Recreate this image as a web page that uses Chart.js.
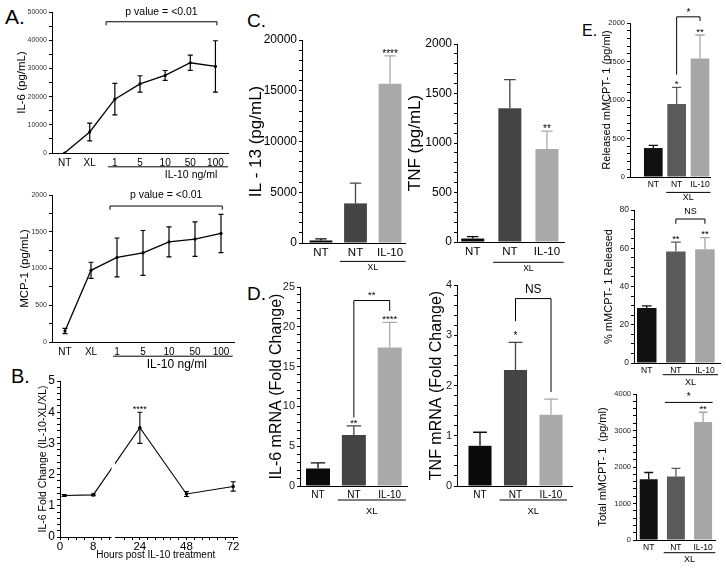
<!DOCTYPE html>
<html><head><meta charset="utf-8">
<script src="https://cdn.jsdelivr.net/npm/chart.js@4.4.1/dist/chart.umd.min.js"></script>
<style>
html,body{margin:0;padding:0;background:#fff}
body{width:726px;height:569px;position:relative;overflow:hidden;font-family:'Liberation Sans',Arial,sans-serif;color:#000}
canvas{position:absolute}
.pl{position:absolute;line-height:1;white-space:nowrap}
</style></head><body>
<div class="pl" style="left:5px;top:6px;font-size:21px">A.</div>
<div class="pl" style="left:11px;top:366px;font-size:20px">B.</div>
<div class="pl" style="left:247px;top:11px;font-size:19px">C.</div>
<div class="pl" style="left:247px;top:284px;font-size:19px">D.</div>
<div class="pl" style="left:582px;top:23px;font-size:16px">E.</div>
<script>
const FONT = "'Liberation Sans', Arial, Helvetica, sans-serif";
Chart.defaults.font.family = FONT;
Chart.defaults.color = '#000';
Chart.defaults.animation = false;

// ---------------- DATA ----------------
const doseLabels = ['NT', 'XL', '1', '5', '10', '50', '100'];
const il6Mean = [0, 7470, 19100, 24500, 27500, 32000, 30700];
const il6Err  = [0, 3150, 5600, 2900, 1750, 2700, 9100];
const mcp1Mean = [150, 975, 1150, 1212, 1362, 1400, 1477];
const mcp1Err  = [35, 110, 265, 305, 205, 235, 260];

const hours = [1, 8, 24, 48, 72];
const hourTickLabels = [0, 8, 24, 48, 72];
const foldMean = [1.33, 1.35, 3.5, 1.38, 1.62];
const foldErr  = [0.03, 0.03, 0.5, 0.08, 0.15];

const groupLabels = ['NT', 'NT', 'IL-10'];
const il13Mean = [250, 3900, 15680];
const il13Err  = [150, 2000, 2750];
const tnfMean = [35, 1350, 940];
const tnfErr  = [20, 290, 180];
const il6mRNAMean = [2.2, 6.4, 17.4];
const il6mRNAErr  = [0.7, 1.15, 3.15];
const tnfmRNAMean = [0.8, 2.31, 1.42];
const tnfmRNAErr  = [0.27, 0.55, 0.31];
const releasedMean = [376, 948, 1540];
const releasedErr  = [34, 216, 304];
const pctMean = [28.7, 58.3, 59.5];
const pctErr  = [1.2, 4.9, 6.1];
const totalMean = [1667, 1740, 3230];
const totalErr  = [183, 220, 270];

// ---------------- COLOURS ----------------
const CD_COLS = ['#0a0a0a', '#444444', '#aaaaaa'];
const E_COLS = ['#111111', '#5a5a5a', '#a6a6a6'];

// ---------------- custom broken linear scale (panel B) ----------------
class BrokenScale extends Chart.LinearScale {
  static id = 'broken';
  getPixelForValue(v) {
    if (v === null || v === undefined || isNaN(v)) return NaN;
    const b = this.options.brk;
    const W = this.right - this.left;
    if (v <= b.leftMax) return this.left + (v - this.min) / (b.leftMax - this.min) * b.leftFrac * W;
    const r0 = this.left + (b.leftFrac + b.gapFrac) * W;
    return r0 + (v - b.rightMin) / (this.max - b.rightMin) * (1 - b.leftFrac - b.gapFrac) * W;
  }
}
Chart.register(BrokenScale);

function txt(ctx, s, x, y, size, align, base) {
  ctx.save();
  ctx.font = size + 'px ' + FONT;
  ctx.fillStyle = '#000';
  ctx.textAlign = align || 'center';
  ctx.textBaseline = base || 'middle';
  ctx.fillText(s, x, y);
  ctx.restore();
}
const valOf = d => (typeof d === 'object' && d !== null) ? d.y : d;

// ---------------- decoration plugin: error bars, stars, brackets, groups ----------------
const deco = {
  id: 'deco',
  afterDatasetsDraw(chart, args, o) {
    const ctx = chart.ctx, xs = chart.scales.x, ys = chart.scales.y;
    const base = o.xBase || 0;
    const X = i => xs.getPixelForValue(i + base);
    const Y = v => ys.getPixelForValue(v);
    ctx.save();
    chart.data.datasets.forEach((ds, di) => {
      if (!ds.errors) return;
      const meta = chart.getDatasetMeta(di);
      meta.data.forEach((el, i) => {
        const e = ds.errors[i];
        if (!e) return;
        const m = valOf(ds.data[i]);
        const col = Array.isArray(ds.errorColor) ? ds.errorColor[i] : (ds.errorColor || '#000');
        const cap = ds.errorCapFrac ? el.width * ds.errorCapFrac : (ds.errorCap || 6);
        ctx.strokeStyle = col;
        ctx.lineWidth = ds.errorWidth || 1.2;
        const yT = Y(m + e), yB = ds.errorBoth ? Y(m - e) : Y(m);
        ctx.beginPath();
        ctx.moveTo(el.x, yB); ctx.lineTo(el.x, yT);
        ctx.moveTo(el.x - cap / 2, yT); ctx.lineTo(el.x + cap / 2, yT);
        if (ds.errorBoth) { ctx.moveTo(el.x - cap / 2, yB); ctx.lineTo(el.x + cap / 2, yB); }
        ctx.stroke();
      });
    });
    if (o.gap) {
      const b = xs.options.brk, W = xs.right - xs.left;
      const g0 = xs.left + b.leftFrac * W, g1 = xs.left + (b.leftFrac + b.gapFrac) * W;
      ctx.fillStyle = '#fff';
      ctx.fillRect(g0, chart.chartArea.top - 2, g1 - g0, xs.top - chart.chartArea.top + 4);
    }
    const ds0 = chart.data.datasets[0];
    const meta0 = chart.getDatasetMeta(0);
    (o.stars || []).forEach(s => {
      const m = valOf(ds0.data[s.i]);
      const e = ds0.errors ? ds0.errors[s.i] : 0;
      txt(ctx, s.text, meta0.data[s.i].x, Y(m + e) - (o.starGap ?? 3), o.starFont || 11);
    });
    ctx.strokeStyle = '#000';
    ctx.lineWidth = 1;
    (o.brackets || []).forEach(b => {
      const x1 = X(b.i1 + (b.e1 || 0)), x2 = X(b.i2 + (b.e2 || 0)), yt = Y(b.top);
      ctx.beginPath();
      if (b.l != null) { ctx.moveTo(x1, Y(b.l)); ctx.lineTo(x1, yt); } else ctx.moveTo(x1, yt);
      ctx.lineTo(x2, yt);
      if (b.r != null) ctx.lineTo(x2, Y(b.r));
      ctx.stroke();
      if (b.text) txt(ctx, b.text, b.tx != null ? X(b.tx) : (x1 + x2) / 2,
                      b.ty != null ? Y(b.ty) : yt - (b.textGap || 5), b.font || 11);
    });
    (o.groups || []).forEach(g => {
      const x1 = X(g.i1 + (g.e1 || 0)), x2 = X(g.i2 + (g.e2 || 0));
      const gy = xs.top + g.lineDy;
      ctx.beginPath(); ctx.moveTo(x1, gy); ctx.lineTo(x2, gy); ctx.stroke();
      txt(ctx, g.text, g.tx != null ? X(g.tx) : (x1 + x2) / 2, xs.top + g.textDy, g.font || 9.5);
    });
    (o.axisTexts || []).forEach(t => {
      txt(ctx, t.text, X(t.at), xs.top + t.dy, t.font || 10);
    });
    ctx.restore();
  }
};

function tickList(min, max, step) {
  const a = [], n = Math.round((max - min) / step);
  for (let k = 0; k <= n; k++) a.push(+(min + k * step).toFixed(6));
  return a;
}

function yAxis(o, YW, titlePad) {
  const list = tickList(o.min, o.max, o.minor);
  return {
    type: 'linear', position: 'left', min: o.min, max: o.max,
    afterFit: s => { s.width = YW; },
    afterBuildTicks: s => { s.ticks = list.map(v => ({ value: v })); },
    ticks: {
      autoSkip: false, font: { size: o.tickSize }, color: o.tickColor || '#000', padding: o.tickPad ?? 2,
      callback: v => { const r = v / o.major; return Math.abs(r - Math.round(r)) < 1e-6 ? String(+v.toFixed(4)) : ''; }
    },
    grid: { display: true, drawOnChartArea: false, drawTicks: true, tickLength: o.tickLen ?? 3, tickColor: '#000', tickWidth: 1 },
    border: { display: true, color: '#000', width: 1 },
    title: { display: true, text: o.title, font: { size: o.titleSize }, color: '#000', padding: { top: titlePad, bottom: 0 } }
  };
}

function mount(b, build) {
  const lh = b.titleSize * 1.2;
  const left = Math.floor(b.titleX - lh / 2 - 1);
  const x0 = Math.round(b.x0), x1 = Math.round(b.x1), y0 = Math.round(b.y0), y1 = Math.round(b.y1);
  const PT = b.PT ?? 30, PR = b.PR ?? 24, XH = b.XH ?? 40;
  const YW = x0 - left, W = x1 - x0 + YW + PR, H = y1 - y0 + PT + XH;
  const cv = document.createElement('canvas');
  cv.width = W; cv.height = H;
  Object.assign(cv.style, { left: left + 'px', top: (y0 - PT) + 'px', width: W + 'px', height: H + 'px' });
  document.body.appendChild(cv);
  const titlePad = b.titleX - left - lh / 2;
  const cfg = build({ YW, XH, titlePad });
  cfg.options = Object.assign({
    responsive: false, animation: false, events: [], devicePixelRatio: 1,
    layout: { padding: { left: 0, top: PT, right: PR, bottom: 0 } }
  }, cfg.options);
  cfg.options.plugins = Object.assign({ legend: { display: false }, tooltip: { enabled: false } }, cfg.options.plugins || {});
  cfg.plugins = [deco];
  return new Chart(cv, cfg);
}

function barChart(b) {
  return mount(b, ({ YW, XH, titlePad }) => {
    const min = 1 - (b.first - b.x0) / b.cw;
    const max = min + (b.x1 - b.x0) / b.cw;
    return {
      type: 'bar',
      data: { datasets: [{
        data: b.means.map((m, i) => ({ x: i + 1, y: m })),
        errors: b.errs, errorColor: b.colors, errorCapFrac: b.capFrac ?? 0.5, errorWidth: 1.3,
        backgroundColor: b.colors, borderWidth: 0, categoryPercentage: 1, barPercentage: b.barFrac
      }] },
      options: {
        scales: {
          x: {
            type: 'linear', min, max, offset: false,
            afterFit: s => { s.height = XH; },
            afterBuildTicks: s => { s.ticks = b.cats.map((c, i) => ({ value: i + 1 })); },
            ticks: { autoSkip: false, maxRotation: 0, font: { size: b.xSize }, color: '#000', padding: b.xPad ?? 3,
                     callback: v => b.cats[Math.round(v) - 1] ?? '' },
            grid: { display: true, drawOnChartArea: false, drawTicks: false },
            border: { display: true, color: '#000', width: 1 }
          },
          y: yAxis(Object.assign({ titleSize: b.titleSize }, b.y), YW, titlePad)
        },
        plugins: { deco: Object.assign({ xBase: 1 }, b.deco) }
      }
    };
  });
}

function doseChart(b) {
  return mount(b, ({ YW, XH, titlePad }) => ({
    type: 'line',
    data: { labels: b.cats, datasets: [{
      data: b.means, errors: b.errs, errorBoth: true, errorCap: 5, errorWidth: 1.2, errorColor: '#000',
      borderColor: '#000', borderWidth: 1.3, pointRadius: 1.6, pointBackgroundColor: '#000', pointBorderWidth: 0,
      tension: 0, fill: false
    }] },
    options: {
      scales: {
        x: {
          type: 'category', offset: true,
          afterFit: s => { s.height = XH; },
          ticks: { autoSkip: false, maxRotation: 0, font: { size: 10 }, color: '#000', padding: 4 },
          grid: { display: true, drawOnChartArea: false, drawTicks: false, offset: false },
          border: { display: true, color: '#000', width: 1 }
        },
        y: yAxis(Object.assign({ titleSize: b.titleSize }, b.y), YW, titlePad)
      },
      plugins: { deco: b.deco }
    }
  }));
}

// ---------------- PANEL A ----------------
doseChart({
  x0: 52, x1: 228, y0: 12.3, y1: 152.7, titleX: 21.7, titleSize: 11.5,
  cats: doseLabels, means: il6Mean, errs: il6Err,
  y: { min: 0, max: 50000, minor: 5000, major: 10000, tickSize: 7, tickColor: '#333', title: 'IL-6 (pg/mL)' },
  deco: {
    brackets: [{ i1: 2, i2: 6, e1: -0.35, e2: 0.06, top: 46540, l: 45300, r: 45300, text: 'p value = <0.01', ty: 50000, font: 10.5 }],
    groups: [{ i1: 2, i2: 6, e1: -0.27, e2: 0.5, text: 'IL-10 ng/ml', tx: 5.03, lineDy: 13.8, textDy: 22.5, font: 10.5 }]
  }
});
doseChart({
  x0: 52, x1: 234, y0: 195, y1: 341.5, titleX: 25, titleSize: 11.5,
  cats: doseLabels, means: mcp1Mean, errs: mcp1Err,
  y: { min: 0, max: 2000, minor: 250, major: 500, tickSize: 7, tickColor: '#333', title: 'MCP-1 (pg/mL)' },
  deco: {
    brackets: [{ i1: 2, i2: 6, e1: -0.27, e2: 0.05, top: 1850, l: 1800, r: 1800, text: 'p value = <0.01', ty: 2000, font: 10.5 }],
    groups: [{ i1: 2, i2: 6, e1: -0.15, e2: 0.45, text: 'IL-10 ng/ml', tx: 4.3, lineDy: 14.2, textDy: 22.5, font: 12 }]
  }
});

// ---------------- PANEL B ----------------
const hourTicks = tickList(0, 12, 2).concat(tickList(16, 72, 4));
mount({ x0: 60, x1: 237.3, y0: 380.7, y1: 536.7, titleX: 43, titleSize: 10.5, XH: 25 }, ({ YW, XH, titlePad }) => ({
  type: 'line',
  data: { datasets: [{
    data: hours.map((h, i) => ({ x: h, y: foldMean[i] })),
    errors: foldErr, errorBoth: true, errorCap: 5, errorWidth: 1.1, errorColor: '#000',
    borderColor: '#000', borderWidth: 1.1, pointRadius: 1.8, pointBackgroundColor: '#000', pointBorderWidth: 0,
    tension: 0, fill: false
  }] },
  options: {
    scales: {
      x: {
        type: 'broken', min: 0, max: 74,
        brk: { leftMax: 12.4, rightMin: 11.15, leftFrac: 0.2916, gapFrac: 0.0186 },
        afterFit: s => { s.height = XH; },
        afterBuildTicks: s => { s.ticks = hourTicks.map(v => ({ value: v })); },
        ticks: { autoSkip: false, maxRotation: 0, font: { size: 11.5 }, color: '#000', padding: 0,
                 callback: v => hourTickLabels.includes(v) ? String(v) : '' },
        grid: { display: true, drawOnChartArea: false, drawTicks: true, tickLength: 3, tickColor: '#000' },
        border: { display: true, color: '#000', width: 1 },
        title: { display: false }
      },
      y: yAxis({ min: 0, max: 5, minor: 0.2, major: 1, tickSize: 12, title: 'IL-6 Fold Change (IL-10-XL/XL)', titleSize: 10.5 }, YW, titlePad)
    },
    plugins: { deco: { gap: true, stars: [{ i: 2, text: '****' }], starFont: 9, starGap: 3,
                       axisTexts: [{ text: 'Hours post IL-10 treatment', at: 32.2, dy: 18, font: 10 }] } }
  }
}));

// ---------------- PANEL C ----------------
barChart({
  x0: 301.7, x1: 405, y0: 40, y1: 243.3, titleX: 256.7, titleSize: 17,
  first: 320.7, cw: 34.65, barFrac: 0.66, cats: groupLabels, means: il13Mean, errs: il13Err, colors: CD_COLS, xSize: 11.5,
  y: { min: 0, max: 20000, minor: 1000, major: 5000, tickSize: 12, title: 'IL - 13 (pg/mL)' },
  deco: { stars: [{ i: 2, text: '****' }], starFont: 10, starGap: 2,
          groups: [{ i1: 1, i2: 2, e1: -0.45, e2: 0.45, text: 'XL', lineDy: 18.4, textDy: 25, font: 8.5 }] }
});
barChart({
  x0: 457.3, x1: 564, y0: 44.3, y1: 241.7, titleX: 415, titleSize: 17,
  first: 473, cw: 37, barFrac: 0.62, cats: groupLabels, means: tnfMean, errs: tnfErr, colors: CD_COLS, xSize: 11.5,
  y: { min: 0, max: 2000, minor: 100, major: 500, tickSize: 12, title: 'TNF (pg/mL)' },
  deco: { stars: [{ i: 2, text: '**' }], starFont: 10, starGap: 2,
          groups: [{ i1: 1, i2: 2, e1: -0.45, e2: 0.45, text: 'XL', lineDy: 20.3, textDy: 26.5, font: 8.5 }] }
});

// ---------------- PANEL D ----------------
barChart({
  x0: 300, x1: 407, y0: 286.7, y1: 486, titleX: 277, titleSize: 16,
  first: 318, cw: 35.85, barFrac: 0.67, cats: groupLabels, means: il6mRNAMean, errs: il6mRNAErr, colors: CD_COLS, xSize: 10,
  y: { min: 0, max: 25, minor: 1, major: 5, tickSize: 11, tickColor: '#222', title: 'IL-6 mRNA (Fold Change)' },
  capFrac: 0.6,
  deco: { stars: [{ i: 1, text: '**' }, { i: 2, text: '****' }], starFont: 9.5, starGap: 3,
          brackets: [{ i1: 1, i2: 2, top: 23.3, l: 8.6, r: 22.0, text: '**', textGap: 5, font: 9.5 }],
          groups: [{ i1: 1, i2: 2, e1: -0.45, e2: 0.45, text: 'XL', lineDy: 14, textDy: 25.7, font: 9.5 }] }
});
barChart({
  x0: 457, x1: 572, y0: 285, y1: 486, titleX: 436.7, titleSize: 16,
  first: 480, cw: 35.5, barFrac: 0.65, cats: groupLabels, means: tnfmRNAMean, errs: tnfmRNAErr, colors: CD_COLS, xSize: 10,
  y: { min: 0, max: 4, minor: 0.2, major: 1, tickSize: 11, tickColor: '#222', title: 'TNF mRNA (Fold Change)' },
  capFrac: 0.6,
  deco: { stars: [{ i: 1, text: '*' }], starFont: 10, starGap: 6,
          brackets: [{ i1: 1, i2: 2, top: 3.73, l: 3.28, r: 1.87, text: 'NS', textGap: 9, font: 12 }],
          groups: [{ i1: 1, i2: 2, e1: -0.45, e2: 0.45, text: 'XL', lineDy: 14, textDy: 25.5, font: 9.5 }] }
});

// ---------------- PANEL E ----------------
barChart({
  x0: 630, x1: 710, y0: 23.3, y1: 177.3, titleX: 606.5, titleSize: 11,
  first: 653.3, cw: 23.35, barFrac: 0.8, cats: groupLabels, means: releasedMean, errs: releasedErr, colors: E_COLS, xSize: 8.5,
  y: { min: 0, max: 2000, minor: 100, major: 500, tickSize: 7.5, tickColor: '#222', title: 'Released mMCPT- 1 (pg/ml)' },
  deco: { stars: [{ i: 1, text: '*' }, { i: 2, text: '**' }], starFont: 9.5, starGap: 3,
          brackets: [{ i1: 1, i2: 2, top: 2080, l: 1330, r: 2025, text: '*', textGap: 4, font: 10 }],
          groups: [{ i1: 1, i2: 2, e1: -0.45, e2: 0.45, text: 'XL', lineDy: 15.4, textDy: 21, font: 9 }] }
});
barChart({
  x0: 634.3, x1: 720, y0: 210, y1: 363.3, titleX: 609, titleSize: 11,
  first: 647, cw: 29, barFrac: 0.67, cats: groupLabels, means: pctMean, errs: pctErr, colors: E_COLS, xSize: 8.5,
  y: { min: 0, max: 80, minor: 5, major: 20, tickSize: 8.5, tickColor: '#222', title: '% mMCPT- 1 Released' },
  deco: { stars: [{ i: 1, text: '**' }, { i: 2, text: '**' }], starFont: 9.5, starGap: 3,
          brackets: [{ i1: 1, i2: 2, top: 75.3, l: 72.8, r: 72.8, text: 'NS', textGap: 7, font: 9 }],
          groups: [{ i1: 1, i2: 2, e1: -0.45, e2: 0.45, text: 'XL', lineDy: 11.7, textDy: 19.4, font: 9 }] }
});
barChart({
  x0: 636, x1: 715, y0: 394.3, y1: 540, titleX: 603, titleSize: 11,
  first: 648.7, cw: 27.2, barFrac: 0.66, cats: groupLabels, means: totalMean, errs: totalErr, colors: E_COLS, xSize: 8.5,
  y: { min: 0, max: 4000, minor: 200, major: 1000, tickSize: 7.5, tickColor: '#222', title: 'Total mMCPT- 1  (pg/ml)' },
  deco: { stars: [{ i: 2, text: '**' }], starFont: 9.5, starGap: 3,
          brackets: [{ i1: 1, i2: 2, e1: -0.4, e2: 0.35, top: 3770, text: '*', textGap: 5, font: 10 }],
          groups: [{ i1: 1, i2: 2, e1: -0.45, e2: 0.45, text: 'XL', lineDy: 12.7, textDy: 20, font: 9 }] }
});
</script>
</body></html>
